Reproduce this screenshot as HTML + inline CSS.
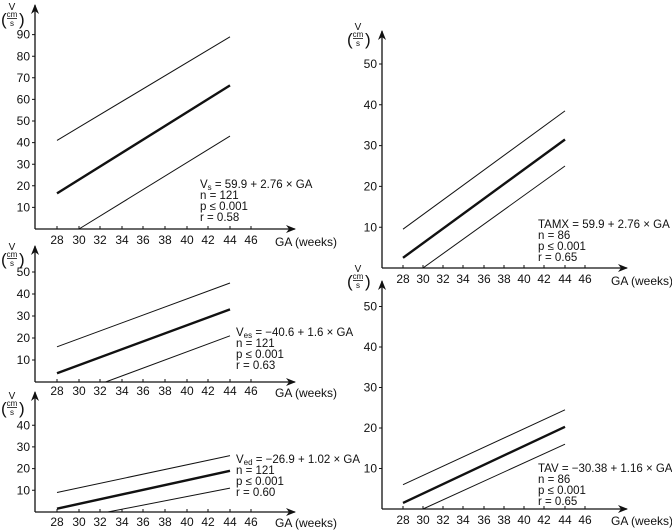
<!DOCTYPE html>
<html><head><meta charset="utf-8"><style>
html,body{margin:0;padding:0;background:#fff}
svg{display:block}
text{font-family:"Liberation Sans",sans-serif;fill:#111}
.t{font-size:12px}
.a{font-size:11.5px}
.u{font-size:10px}
.s{font-size:8px}
</style></head><body>
<svg width="672" height="530" viewBox="0 0 672 530" xmlns="http://www.w3.org/2000/svg">
<defs><marker id="ar" markerWidth="10" markerHeight="8" refX="9" refY="4" orient="auto" markerUnits="userSpaceOnUse"><path d="M0,0 L10,4 L0,8 L3,4 z" fill="#111"/></marker></defs>
<g stroke="#111" fill="none">
<!-- panel 1 -->
<path d="M35,229 V5" stroke-width="1.3" marker-end="url(#ar)"/>
<path d="M35,229 H295" stroke-width="1.3" marker-end="url(#ar)"/>
<path d="M57,140.4 L230,36.8" stroke-width="1"/>
<path d="M57,193.4 L230,85.4" stroke-width="2.4"/>
<path d="M79,229 L230,136.1" stroke-width="1"/>
<!-- panel 2 -->
<path d="M35,382 V246" stroke-width="1.3" marker-end="url(#ar)"/>
<path d="M35,382 H295" stroke-width="1.3" marker-end="url(#ar)"/>
<path d="M57,346.8 L230,283" stroke-width="1"/>
<path d="M57,373.2 L230,309.4" stroke-width="2.4"/>
<path d="M105.6,382 L230,335.8" stroke-width="1"/>
<!-- panel 3 -->
<path d="M35,512 V392" stroke-width="1.3" marker-end="url(#ar)"/>
<path d="M35,512 H295" stroke-width="1.3" marker-end="url(#ar)"/>
<path d="M57,492.5 L230,455.6" stroke-width="1"/>
<path d="M57,508.7 L230,470.8" stroke-width="2.4"/>
<path d="M107.8,512 L230,488.1" stroke-width="1"/>
<!-- panel 4 -->
<path d="M382,268 V31" stroke-width="1.3" marker-end="url(#ar)"/>
<path d="M382,268 H627" stroke-width="1.3" marker-end="url(#ar)"/>
<path d="M403,229.2 L565,110.9" stroke-width="1"/>
<path d="M403,257.8 L565,139.5" stroke-width="2.4"/>
<path d="M423,268 L565,166" stroke-width="1"/>
<!-- panel 5 -->
<path d="M382,509 V281" stroke-width="1.3" marker-end="url(#ar)"/>
<path d="M382,509 H627" stroke-width="1.3" marker-end="url(#ar)"/>
<path d="M403,484.7 L565,409.8" stroke-width="1"/>
<path d="M403,502.9 L565,426.8" stroke-width="2.4"/>
<path d="M423,509 L565,444.2" stroke-width="1"/>
<!-- ticks -->
<path stroke-width="1" d="M32,207.4h3M32,185.8h3M32,164.2h3M32,142.6h3M32,121h3M32,99.4h3M32,77.8h3M32,56.2h3M32,34.6h3
M32,360h3M32,338h3M32,316h3M32,294h3M32,272h3
M32,490.3h3M32,468.6h3M32,446.9h3M32,425.2h3
M379,227.2h3M379,186.4h3M379,145.6h3M379,104.8h3M379,64h3
M379,468.5h3M379,428h3M379,387.5h3M379,347h3M379,306.5h3
M57,226v3M79,226v3M100,226v3M122,226v3M143,226v3M165,226v3M187,226v3M208,226v3M230,226v3M251,226v3
M57,379v3M79,379v3M100,379v3M122,379v3M143,379v3M165,379v3M187,379v3M208,379v3M230,379v3M251,379v3
M57,509v3M79,509v3M100,509v3M122,509v3M143,509v3M165,509v3M187,509v3M208,509v3M230,509v3M251,509v3
M403,265v3M423,265v3M443,265v3M463,265v3M484,265v3M504,265v3M524,265v3M544,265v3M565,265v3M585,265v3
M403,506v3M423,506v3M443,506v3M463,506v3M484,506v3M504,506v3M524,506v3M544,506v3M565,506v3M585,506v3"/>
</g>
<!-- y tick labels -->
<g class="t" text-anchor="end">
<text x="30" y="211.5">10</text><text x="30" y="189.9">20</text><text x="30" y="168.3">30</text><text x="30" y="146.7">40</text><text x="30" y="125.1">50</text><text x="30" y="103.5">60</text><text x="30" y="81.9">70</text><text x="30" y="60.3">80</text><text x="30" y="38.7">90</text>
<text x="30" y="364">10</text><text x="30" y="342">20</text><text x="30" y="320">30</text><text x="30" y="298">40</text><text x="30" y="276">50</text>
<text x="30" y="494.4">10</text><text x="30" y="472.7">20</text><text x="30" y="451">30</text><text x="30" y="429.3">40</text>
<text x="377" y="231.3">10</text><text x="377" y="190.5">20</text><text x="377" y="149.7">30</text><text x="377" y="108.9">40</text><text x="377" y="68.1">50</text>
<text x="377" y="472.6">10</text><text x="377" y="432.1">20</text><text x="377" y="391.6">30</text><text x="377" y="351.1">40</text><text x="377" y="310.6">50</text>
</g>
<!-- x tick labels -->
<g class="t" text-anchor="middle">
<text x="57" y="244">28</text><text x="79" y="244">30</text><text x="100" y="244">32</text><text x="122" y="244">34</text><text x="143" y="244">36</text><text x="165" y="244">38</text><text x="187" y="244">40</text><text x="208" y="244">42</text><text x="230" y="244">44</text><text x="251" y="244">46</text>
<text x="57" y="395">28</text><text x="79" y="395">30</text><text x="100" y="395">32</text><text x="122" y="395">34</text><text x="143" y="395">36</text><text x="165" y="395">38</text><text x="187" y="395">40</text><text x="208" y="395">42</text><text x="230" y="395">44</text><text x="251" y="395">46</text>
<text x="57" y="526">28</text><text x="79" y="526">30</text><text x="100" y="526">32</text><text x="122" y="526">34</text><text x="143" y="526">36</text><text x="165" y="526">38</text><text x="187" y="526">40</text><text x="208" y="526">42</text><text x="230" y="526">44</text><text x="251" y="526">46</text>
<text x="403" y="283">28</text><text x="423" y="283">30</text><text x="443" y="283">32</text><text x="463" y="283">34</text><text x="484" y="283">36</text><text x="504" y="283">38</text><text x="524" y="283">40</text><text x="544" y="283">42</text><text x="565" y="283">44</text><text x="585" y="283">46</text>
<text x="403" y="524">28</text><text x="423" y="524">30</text><text x="443" y="524">32</text><text x="463" y="524">34</text><text x="484" y="524">36</text><text x="504" y="524">38</text><text x="524" y="524">40</text><text x="544" y="524">42</text><text x="565" y="524">44</text><text x="585" y="524">46</text>
</g>
<g class="t">
<text x="275" y="246">GA (weeks)</text>
<text x="275" y="397">GA (weeks)</text>
<text x="275" y="527">GA (weeks)</text>
<text x="611" y="285">GA (weeks)</text>
<text x="611" y="525">GA (weeks)</text>
</g>
<!-- unit labels -->
<g id="unit">
<text class="u" x="12" y="10" text-anchor="middle">V</text>
<text x="1" y="25" style="font-size:17px">(</text>
<text x="19" y="25" style="font-size:17px">)</text>
<text class="s" x="12" y="17" text-anchor="middle">cm</text>
<line x1="7" y1="18.5" x2="17" y2="18.5" stroke="#111" stroke-width="0.8"/>
<text class="s" x="12" y="26" text-anchor="middle">s</text>
</g>
<use href="#unit" x="0" y="240"/>
<use href="#unit" x="0" y="389"/>
<use href="#unit" x="346" y="20"/>
<use href="#unit" x="346" y="262"/>
<!-- annotations -->
<g class="a">
<text x="200" y="188">V<tspan class="s" dy="2">s</tspan><tspan dy="-2"> = 59.9 + 2.76 × GA</tspan></text>
<text x="200" y="199">n = 121</text>
<text x="200" y="210">p ≤ 0.001</text>
<text x="200" y="221">r = 0.58</text>
<text x="236" y="336">V<tspan class="s" dy="2">es</tspan><tspan dy="-2"> = −40.6 + 1.6 × GA</tspan></text>
<text x="236" y="347">n = 121</text>
<text x="236" y="358">p ≤ 0.001</text>
<text x="236" y="369">r = 0.63</text>
<text x="236" y="463">V<tspan class="s" dy="2">ed</tspan><tspan dy="-2"> = −26.9 + 1.02 × GA</tspan></text>
<text x="236" y="474">n = 121</text>
<text x="236" y="485">p ≤ 0.001</text>
<text x="236" y="496">r = 0.60</text>
<text x="538" y="228">TAMX = 59.9 + 2.76 × GA</text>
<text x="538" y="239">n = 86</text>
<text x="538" y="250">p ≤ 0.001</text>
<text x="538" y="261">r = 0.65</text>
<text x="538" y="472">TAV = −30.38 + 1.16 × GA</text>
<text x="538" y="483">n = 86</text>
<text x="538" y="494">p ≤ 0.001</text>
<text x="538" y="505">r = 0.65</text>
</g>
</svg>
</body></html>
